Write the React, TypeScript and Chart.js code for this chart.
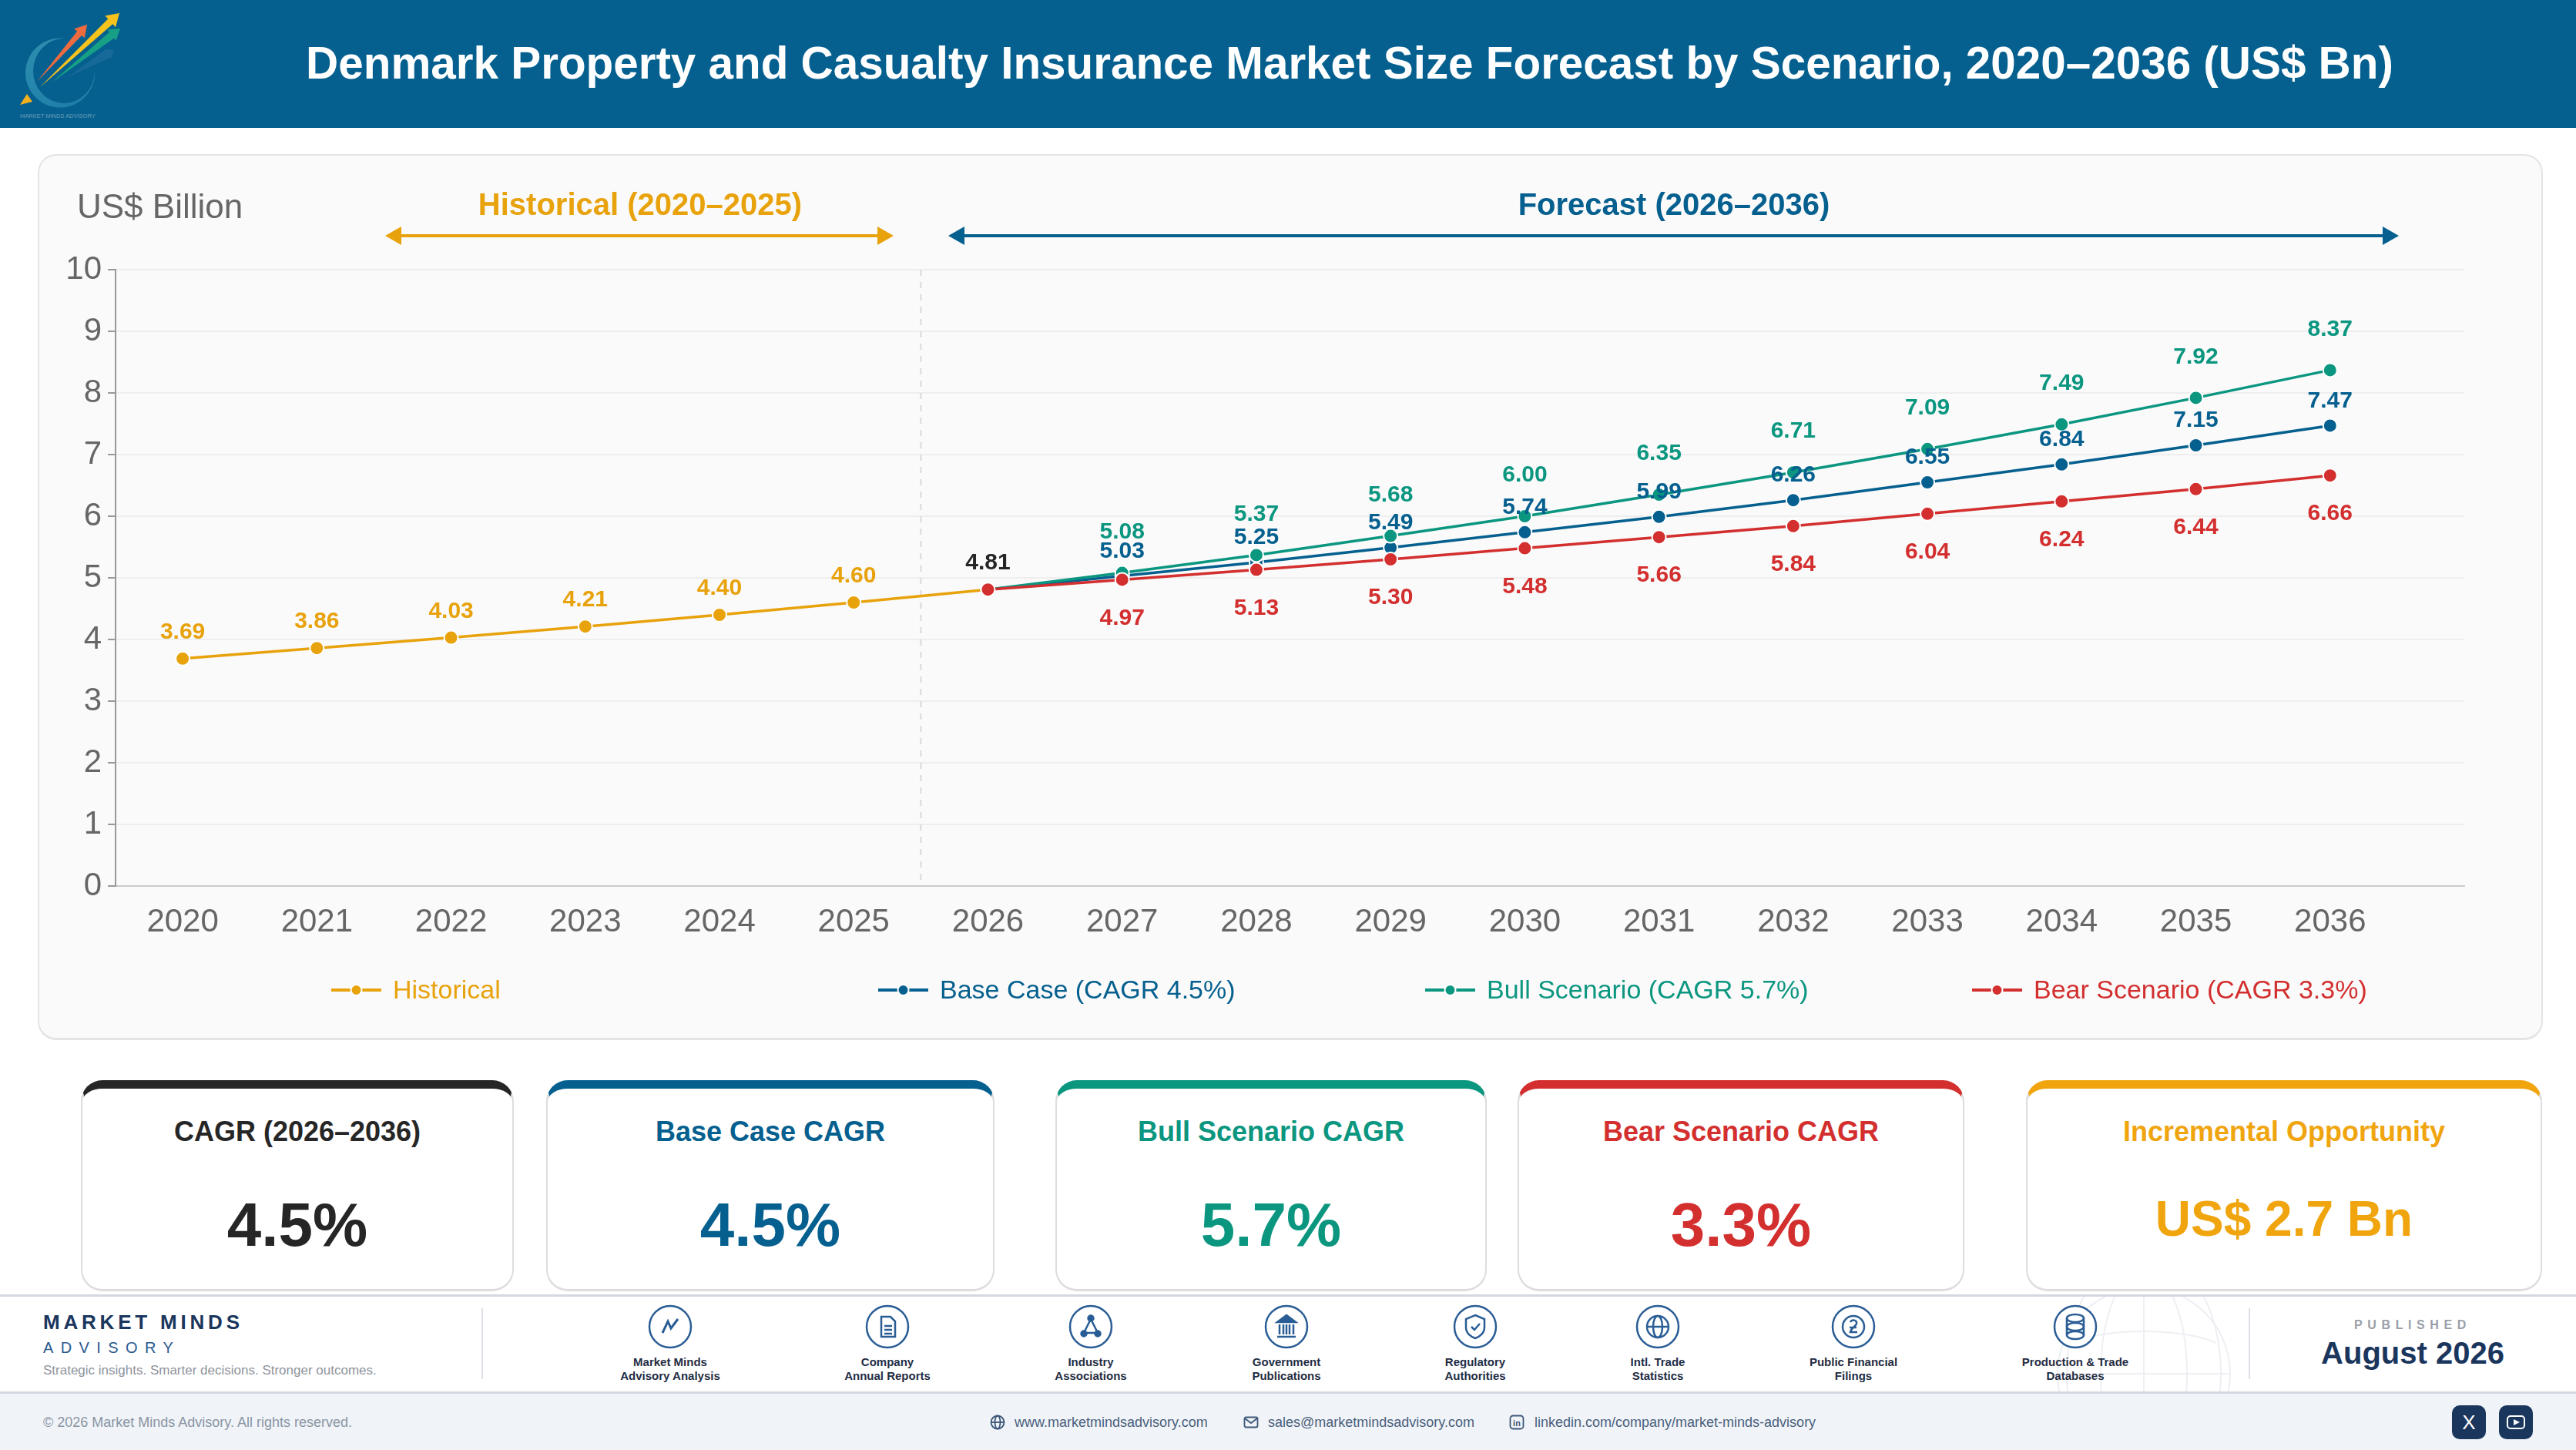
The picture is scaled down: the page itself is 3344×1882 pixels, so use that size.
import React, { useEffect, useRef } from 'react';
import { Chart, registerables } from 'chart.js';

Chart.register(...registerables);

const FONT = '"Liberation Sans", Arial, sans-serif';

const years = [2020, 2021, 2022, 2023, 2024, 2025, 2026, 2027, 2028, 2029, 2030, 2031, 2032, 2033, 2034, 2035, 2036];
const yTicks = [0, 1, 2, 3, 4, 5, 6, 7, 8, 9, 10];

const historicalYears = [2020, 2021, 2022, 2023, 2024, 2025, 2026];
const forecastYears = [2026, 2027, 2028, 2029, 2030, 2031, 2032, 2033, 2034, 2035, 2036];

const historical = [3.69, 3.86, 4.03, 4.21, 4.4, 4.6, 4.81];
const baseCase = [4.81, 5.03, 5.25, 5.49, 5.74, 5.99, 6.26, 6.55, 6.84, 7.15, 7.47];
const bullCase = [4.81, 5.08, 5.37, 5.68, 6.0, 6.35, 6.71, 7.09, 7.49, 7.92, 8.37];
const bearCase = [4.81, 4.97, 5.13, 5.3, 5.48, 5.66, 5.84, 6.04, 6.24, 6.44, 6.66];

const seriesNames = ['Historical', 'Base Case (CAGR 4.5%)', 'Bull Scenario (CAGR 5.7%)', 'Bear Scenario (CAGR 3.3%)'];

const AMBER = '#E8A20C';
const BLUE = '#05608F';
const TEAL = '#0B9680';
const RED = '#D32F2F';
const DARK = '#262626';
const NAVY = '#1B365D';
const ICON = '#2A5D95';

const sources = [
  ['Market Minds', 'Advisory Analysis'],
  ['Company', 'Annual Reports'],
  ['Industry', 'Associations'],
  ['Government', 'Publications'],
  ['Regulatory', 'Authorities'],
  ['Intl. Trade', 'Statistics'],
  ['Public Financial', 'Filings'],
  ['Production & Trade', 'Databases'],
];
const sourceX = [870, 1152, 1416, 1670, 1915, 2152, 2406, 2694];

const cards = [
  { title: 'CAGR (2026–2036)', value: '4.5%', color: DARK, left: 105, right: 667, size: 80, y: 1590 },
  { title: 'Base Case CAGR', value: '4.5%', color: BLUE, left: 709, right: 1291, size: 80, y: 1590 },
  { title: 'Bull Scenario CAGR', value: '5.7%', color: TEAL, left: 1370, right: 1930, size: 80, y: 1590 },
  { title: 'Bear Scenario CAGR', value: '3.3%', color: RED, left: 1970, right: 2550, size: 80, y: 1590 },
  { title: 'Incremental Opportunity', value: 'US$ 2.7 Bn', color: '#F0A50F', left: 2630, right: 3300, size: 64, y: 1582 },
];

const legendItems = [
  { name: seriesNames[0], color: AMBER, x: 430 },
  { name: seriesNames[1], color: BLUE, x: 1140 },
  { name: seriesNames[2], color: TEAL, x: 1850 },
  { name: seriesNames[3], color: RED, x: 2560 },
];

const T = ({ x, y, size, color, bold, align = 'center', spacing, children }: any) => (
  <div
    style={{
      position: 'absolute',
      left: x,
      top: y,
      transform: `translate(${align === 'center' ? '-50%' : '0'}, -50%)`,
      fontSize: size,
      color,
      fontWeight: bold ? 700 : 400,
      letterSpacing: spacing,
      whiteSpace: 'nowrap',
      lineHeight: 1,
    }}
  >
    {children}
  </div>
);

// tail to tip arrow with a tapered shaft and a barbed head
const arrowPoints = (x0: number, y0: number, x1: number, y1: number, shaft: number, head: number, len: number) => {
  const d = Math.hypot(x1 - x0, y1 - y0);
  const ux = (x1 - x0) / d;
  const uy = (y1 - y0) / d;
  const nx = -uy;
  const ny = ux;
  const bx = x1 - ux * len;
  const by = y1 - uy * len;
  const pts = [
    [x0, y0],
    [bx + (nx * shaft) / 2, by + (ny * shaft) / 2],
    [bx + (nx * head) / 2, by + (ny * head) / 2],
    [x1, y1],
    [bx - (nx * head) / 2, by - (ny * head) / 2],
    [bx - (nx * shaft) / 2, by - (ny * shaft) / 2],
  ];
  return pts.map((p) => p.join(',')).join(' ');
};

const Logo = () => (
  <svg style={{ position: 'absolute', left: 0, top: 0 }} width={200} height={166} viewBox="0 0 200 166">
    <defs>
      <linearGradient id="ring" x1="0" y1="0" x2="0.6" y2="1">
        <stop offset="0" stopColor="#2F8FB0" />
        <stop offset="1" stopColor="#1F7FA8" />
      </linearGradient>
    </defs>
    <path d="M84 50 A45 45 0 1 0 123 92 A40 42 0 1 1 84 50 Z" fill="url(#ring)" />
    <polygon points="26,136 35,122 42,132" fill="#F2B01E" />
    <polygon points={arrowPoints(88, 100, 148, 65, 12, 16, 10)} fill="#17699A" />
    <polygon points={arrowPoints(67, 107, 156, 37, 10, 18, 14)} fill="#17A085" />
    <polygon points={arrowPoints(52, 113, 155, 17, 9, 20, 16)} fill="#F6C21C" />
    <polygon points={arrowPoints(48, 106, 113, 32, 8, 18, 15)} fill="#EE6A3F" />
    <text x="26" y="153" fontSize="7.5" fill="#6B9CB8">MARKET MINDS ADVISORY</text>
  </svg>
);

const ArrowLine = ({ x1, x2, color }: any) => (
  <svg style={{ position: 'absolute', left: x1, top: 292 }} width={x2 - x1} height={28}>
    <line x1={18} x2={x2 - x1 - 18} y1={14} y2={14} stroke={color} strokeWidth={4} />
    <polygon points="0,14 21,2 21,26" fill={color} />
    <polygon points={`${x2 - x1},14 ${x2 - x1 - 21},2 ${x2 - x1 - 21},26`} fill={color} />
  </svg>
);

const LegendMark = ({ x, color }: any) => (
  <svg style={{ position: 'absolute', left: x, top: 1273 }} width={66} height={24}>
    <line x1={0} x2={65} y1={12} y2={12} stroke={color} strokeWidth={4} />
    <circle cx={32.5} cy={12} r={7} fill={color} stroke="#fff" strokeWidth={2} />
  </svg>
);

// small line icons for the source strip, all in a 56 box
const glyphs = [
  <path d="M18 36 L25 21 L29 30 L38 18" fill="none" strokeWidth={3} />,
  <g fill="none" strokeWidth={2.5}><path d="M20 15 H32 L38 21 V41 H20 Z" /><path d="M24 27 H34 M24 32 H34 M24 37 H34" /></g>,
  <g fill="none" strokeWidth={2.5}><path d="M28 18 L19 36 H37 Z" /><circle cx="28" cy="17" r="3.5" fill={ICON} /><circle cx="19" cy="37" r="3.5" fill={ICON} /><circle cx="37" cy="37" r="3.5" fill={ICON} /></g>,
  <g strokeWidth={2.5}><path d="M28 13 L40 22 H16 Z" fill={ICON} /><path d="M19 25 V38 M24 25 V38 M28 25 V38 M32 25 V38 M37 25 V38 M16 41 H40" fill="none" /></g>,
  <g fill="none" strokeWidth={2.5}><path d="M28 13 L40 18 V29 C40 36 34 41 28 43 C22 41 16 36 16 29 V18 Z" /><path d="M23 28 L27 32 L34 24" /></g>,
  <g fill="none" strokeWidth={2.5}><circle cx="28" cy="28" r="14" /><ellipse cx="28" cy="28" rx="6" ry="14" /><path d="M14 28 H42" /></g>,
  <g fill="none" strokeWidth={2.5}><circle cx="28" cy="28" r="14" /><path d="M24 22 C26 18 33 19 32 24 C31 28 25 29 24 35 H33 M23 29 H32" /></g>,
  <g fill="none" strokeWidth={2.5}><ellipse cx="28" cy="17" rx="11" ry="5" /><ellipse cx="28" cy="28" rx="11" ry="5" /><ellipse cx="28" cy="39" rx="11" ry="5" /><path d="M17 17 V39 M39 17 V39" /></g>,
];

const SourceIcon = ({ x, index }: any) => (
  <svg style={{ position: 'absolute', left: x - 29, top: 1693 }} width={58} height={58} viewBox="-1 -1 58 58">
    <g stroke={ICON}>
      <circle cx="28" cy="28" r="27" fill="#fff" strokeWidth={2.5} />
      {glyphs[index]}
    </g>
  </svg>
);

const Globe = () => (
  <svg style={{ position: 'absolute', left: 2660, top: 1683 }} width={250} height={123} viewBox="0 0 250 123">
    <g fill="none" stroke="#EDEFF3" strokeWidth={2}>
      <circle cx="123" cy="100" r="112" />
      <ellipse cx="123" cy="100" rx="56" ry="135" />
      <ellipse cx="123" cy="100" rx="100" ry="160" />
      <path d="M11 100 H235 M123 0 V123" />
      <path d="M30 60 C70 40 176 40 216 60" />
    </g>
  </svg>
);

const contactIcon = (x: number, kind: string) => (
  <svg style={{ position: 'absolute', left: x - 11, top: 1835 }} width={22} height={22} viewBox="0 0 22 22">
    <g fill="none" stroke="#3C5678" strokeWidth={1.8}>
      {kind === 'web' && <g><circle cx="11" cy="11" r="8.5" /><ellipse cx="11" cy="11" rx="3.5" ry="8.5" /><path d="M2.5 11 H19.5" /></g>}
      {kind === 'mail' && <g><rect x="2.5" y="4.5" width="17" height="13" rx="2" /><path d="M3 6 L11 12 L19 6" /></g>}
      {kind === 'in' && <rect x="2.5" y="2.5" width="17" height="17" rx="3.5" />}
    </g>
    {kind === 'in' && <text x="11" y="16" fontSize="11" fontWeight="700" textAnchor="middle" fill="#3C5678">in</text>}
  </svg>
);

const pointStyle = (color: string) => ({
  borderColor: color,
  backgroundColor: color,
  borderWidth: 3.5,
  pointRadius: 9,
  pointBorderWidth: 2,
  pointBackgroundColor: color,
  pointBorderColor: '#ffffff',
  tension: 0,
});

const toPoints = (xs: number[], ys: number[]) => xs.map((x, i) => ({ x, y: ys[i] }));

// value labels, in drawing order, with a pixel offset from the point
const labelRows = [
  { data: historical, xs: historicalYears, color: AMBER, offset: -34 },
  { data: bullCase, xs: forecastYears, color: TEAL, offset: -53 },
  { data: baseCase, xs: forecastYears, color: BLUE, offset: -32 },
  { data: bearCase, xs: forecastYears, color: RED, offset: 50 },
];

const valueLabels = {
  id: 'valueLabels',
  afterDatasetsDraw(chart: any) {
    const { ctx, scales } = chart;
    ctx.save();
    ctx.font = `700 30px ${FONT}`;
    ctx.textAlign = 'center';
    ctx.textBaseline = 'middle';
    labelRows.forEach((row) => {
      row.data.forEach((v, i) => {
        const year = row.xs[i];
        if (year === 2026 && row.data !== historical) return;
        ctx.fillStyle = year === 2026 ? DARK : row.color;
        ctx.fillText(v.toFixed(2), scales.x.getPixelForValue(year), scales.y.getPixelForValue(v) + row.offset);
      });
    });
    ctx.restore();
  },
};

const splitLine = {
  id: 'splitLine',
  beforeDatasetsDraw(chart: any) {
    const { ctx, scales, chartArea } = chart;
    const x = scales.x.getPixelForValue(2025.5);
    ctx.save();
    ctx.strokeStyle = '#D9D9D9';
    ctx.lineWidth = 2;
    ctx.setLineDash([8, 8]);
    ctx.beginPath();
    ctx.moveTo(x, chartArea.top);
    ctx.lineTo(x, chartArea.bottom);
    ctx.stroke();
    ctx.restore();
  },
};

const MarketChart = () => {
  const chartRef = useRef<HTMLCanvasElement>(null);

  useEffect(() => {
    if (!chartRef.current) return;
    const chart = new Chart(chartRef.current, {
      type: 'line',
      data: {
        datasets: [
          { label: seriesNames[0], data: toPoints(historicalYears, historical), order: 4, ...pointStyle(AMBER) },
          { label: seriesNames[1], data: toPoints(forecastYears, baseCase), order: 3, ...pointStyle(BLUE) },
          { label: seriesNames[2], data: toPoints(forecastYears, bullCase), order: 2, ...pointStyle(TEAL) },
          { label: seriesNames[3], data: toPoints(forecastYears, bearCase), order: 1, ...pointStyle(RED) },
        ],
      },
      options: {
        animation: false,
        responsive: false,
        devicePixelRatio: 1,
        layout: { padding: { top: 150, right: 102, bottom: 120, left: 0 } },
        plugins: { legend: { display: false }, tooltip: { enabled: false } },
        scales: {
          x: {
            type: 'linear',
            min: 2019.5,
            max: 2037,
            afterBuildTicks: (axis: any) => {
              axis.ticks = years.map((value) => ({ value }));
            },
            afterFit: (axis: any) => {
              axis.height = 80;
            },
            grid: { display: false, drawTicks: false },
            border: { color: '#CCCCCC', width: 2 },
            ticks: {
              autoSkip: false,
              maxRotation: 0,
              padding: 22,
              color: '#666666',
              font: { family: FONT, size: 42 },
              callback: (value: any) => String(value),
            },
          },
          y: {
            min: 0,
            max: 10,
            afterBuildTicks: (axis: any) => {
              axis.ticks = yTicks.map((value) => ({ value }));
            },
            afterFit: (axis: any) => {
              axis.width = 101;
            },
            grid: { color: '#EEEEEE', lineWidth: 2, tickColor: '#999999', tickLength: 10 },
            border: { color: '#999999', width: 2 },
            ticks: {
              padding: 8,
              color: '#666666',
              font: { family: FONT, size: 42 },
            },
          },
        },
      },
      plugins: [splitLine, valueLabels],
    });
    return () => chart.destroy();
  }, []);

  return <canvas ref={chartRef} width={3252} height={1150} style={{ position: 'absolute', left: 49, top: 200, display: 'block' }} />;
};

export default function App() {
  return (
    <div style={{ position: 'fixed', left: 0, top: 0, width: 3344, height: 1882, overflow: 'hidden', background: '#fff', fontFamily: FONT }}>
      <div style={{ position: 'absolute', left: 0, top: 0, width: 3344, height: 166, background: BLUE }} />
      <Logo />
      <T x={1752} y={82} size={58.4} color="#fff" bold>Denmark Property and Casualty Insurance Market Size Forecast by Scenario, 2020–2036 (US$ Bn)</T>

      <div style={{ position: 'absolute', left: 49, top: 200, width: 3252, height: 1150, boxSizing: 'border-box', background: '#FAFAFA', border: '2px solid #E4E4E4', borderBottomWidth: 3, borderRadius: 24 }} />
      <MarketChart />
      <T x={100} y={268} size={44} color="#666" align="left">US$ Billion</T>
      <T x={831} y={265} size={40} color={AMBER} bold>Historical (2020–2025)</T>
      <T x={2173} y={265} size={40} color={BLUE} bold>Forecast (2026–2036)</T>
      <ArrowLine x1={500} x2={1160} color={AMBER} />
      <ArrowLine x1={1231} x2={3114} color={BLUE} />

      {legendItems.map((item) => (
        <React.Fragment key={item.name}>
          <LegendMark x={item.x} color={item.color} />
          <T x={item.x + 80} y={1284} size={34} color={item.color} align="left">{item.name}</T>
        </React.Fragment>
      ))}

      {cards.map((c) => (
        <React.Fragment key={c.title}>
          <div
            style={{
              position: 'absolute',
              left: c.left,
              top: 1402,
              width: c.right - c.left,
              height: 274,
              boxSizing: 'border-box',
              background: '#fff',
              border: '2px solid #DDDDDD',
              borderBottomWidth: 3,
              borderTop: `11px solid ${c.color}`,
              borderRadius: 28,
            }}
          />
          <T x={(c.left + c.right) / 2} y={1469} size={36} color={c.color} bold>{c.title}</T>
          <T x={(c.left + c.right) / 2} y={c.y} size={c.size} color={c.color} bold>{c.value}</T>
        </React.Fragment>
      ))}

      <div style={{ position: 'absolute', left: 0, top: 1680, width: 3344, height: 3, background: '#D5D8E2' }} />
      <Globe />
      <T x={56} y={1716} size={26} color={NAVY} bold align="left" spacing={4.8}>MARKET MINDS</T>
      <T x={56} y={1749} size={20} color="#2C5A8F" align="left" spacing={9.4}>ADVISORY</T>
      <T x={56} y={1778} size={17} color="#8F949C" align="left">Strategic insights. Smarter decisions. Stronger outcomes.</T>
      <div style={{ position: 'absolute', left: 625, top: 1698, width: 2, height: 92, background: '#DDE1E7' }} />
      {sources.map((lines, i) => (
        <React.Fragment key={lines[0]}>
          <SourceIcon x={sourceX[i]} index={i} />
          <T x={sourceX[i]} y={1767} size={15} color="#1F2D44" bold>{lines[0]}</T>
          <T x={sourceX[i]} y={1785} size={15} color="#1F2D44" bold>{lines[1]}</T>
        </React.Fragment>
      ))}
      <div style={{ position: 'absolute', left: 2919, top: 1698, width: 2, height: 92, background: '#DDE1E7' }} />
      <T x={3132} y={1720} size={16} color="#9A9FA8" bold spacing={6.6}>PUBLISHED</T>
      <T x={3132} y={1756} size={40} color={NAVY} bold>August 2026</T>

      <div style={{ position: 'absolute', left: 0, top: 1806, width: 3344, height: 76, background: '#F0F4F8', borderTop: '3px solid #D5D8E2', boxSizing: 'border-box' }} />
      <T x={56} y={1846} size={18} color="#8A94A3" align="left">© 2026 Market Minds Advisory. All rights reserved.</T>
      {contactIcon(1295, 'web')}
      <T x={1317} y={1846} size={18} color="#4A5F7C" align="left">www.marketmindsadvisory.com</T>
      {contactIcon(1624, 'mail')}
      <T x={1646} y={1846} size={18} color="#4A5F7C" align="left">sales@marketmindsadvisory.com</T>
      {contactIcon(1969, 'in')}
      <T x={1992} y={1846} size={18} color="#4A5F7C" align="left">linkedin.com/company/market-minds-advisory</T>
      <svg style={{ position: 'absolute', left: 3183, top: 1824 }} width={44} height={44} viewBox="0 0 44 44">
        <rect width="44" height="44" rx="10" fill={NAVY} />
      </svg>
      <T x={3205} y={1846} size={26} color="#fff">X</T>
      <svg style={{ position: 'absolute', left: 3244, top: 1824 }} width={44} height={44} viewBox="0 0 44 44">
        <rect width="44" height="44" rx="10" fill={NAVY} />
        <rect x="11" y="14" width="22" height="16" rx="4" fill="none" stroke="#fff" strokeWidth="2" />
        <polygon points="19,18 27,22 19,26" fill="#fff" />
      </svg>
    </div>
  );
}
